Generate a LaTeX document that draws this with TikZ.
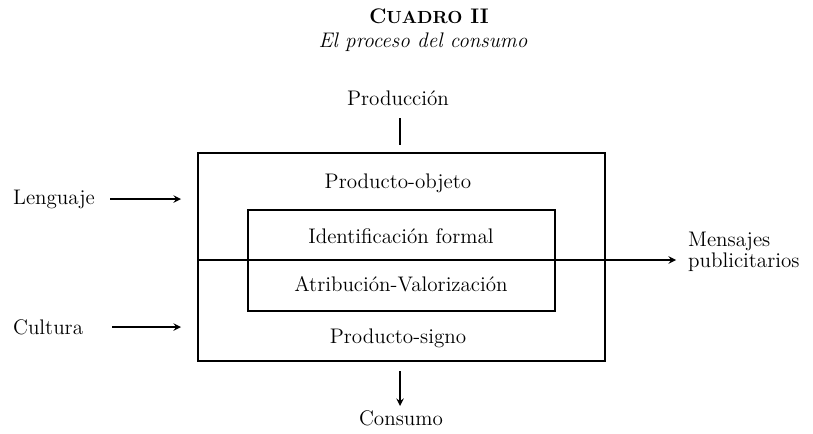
\documentclass[tikz,border=0pt]{standalone}
\usepackage{fontspec}
\usepackage{tikz}
\tikzset{%
  caja/.style    = {shape=rectangle, draw, line width=0.9pt, inner sep=0pt},%
  rotulo/.style  = {font=\large, inner sep=1pt},%
  flecha/.style  = {->, line width=0.9pt, >=stealth}%
}

\begin{document}
\begin{tikzpicture}[x=0.02cm,y=-0.02cm,
		every node/.style = {font=\large}]
		\useasboundingbox (0,0) rectangle (813,433);
		\node (titulo) at (429,16) {\textbf{C{\normalsize UADRO} II}};
		\node (subtitulo) at (423,42) {\textit{El proceso del consumo}};
		\node [rotulo] (prod) at (398,98) {Producción};
		\node [caja, minimum width=407*0.02cm, minimum height=208*0.02cm] (ext) at (401.5,257) {};
		\node [caja, minimum width=307*0.02cm, minimum height=101*0.02cm] (int) at (401.5,260.5) {};
		\node [rotulo] (objeto) at (398,183) {Producto-objeto};
		\node [rotulo] (ident) at (401,236) {Identificación formal};
		\node [rotulo] (atrib) at (401,284) {Atribución-Valorización};
		\node [rotulo] (signo) at (398,338) {Producto-signo};
		\node [rotulo, anchor=west] (leng) at (11,199) {Lenguaje};
		\node [rotulo, anchor=west] (cult) at (11,327) {Cultura};
		\node [rotulo, anchor=west, align=left] (mens) at (686,252) {Mensajes\\[-2pt]publicitarios};
		\node [rotulo] (cons) at (401,418) {Consumo};
		\coordinate (p1) at (400,118);
		\coordinate (p2) at (400,145);
		\coordinate (l1) at (110,199);
		\coordinate (l2) at (181,199);
		\coordinate (c1) at (112,327);
		\coordinate (c2) at (181,327);
		\coordinate (m1) at (ext.west |- 0,260);
		\coordinate (m2) at (676,260);
		\coordinate (k1) at (400,371);
		\coordinate (k2) at (400,406);
		\draw [line width=0.9pt] (p1) -- (p2);
		\draw [flecha] (l1) -- (l2);
		\draw [flecha] (c1) -- (c2);
		\draw [flecha] (m1) -- (m2);
		\draw [flecha] (k1) -- (k2);
		\end{tikzpicture}
\end{document}
